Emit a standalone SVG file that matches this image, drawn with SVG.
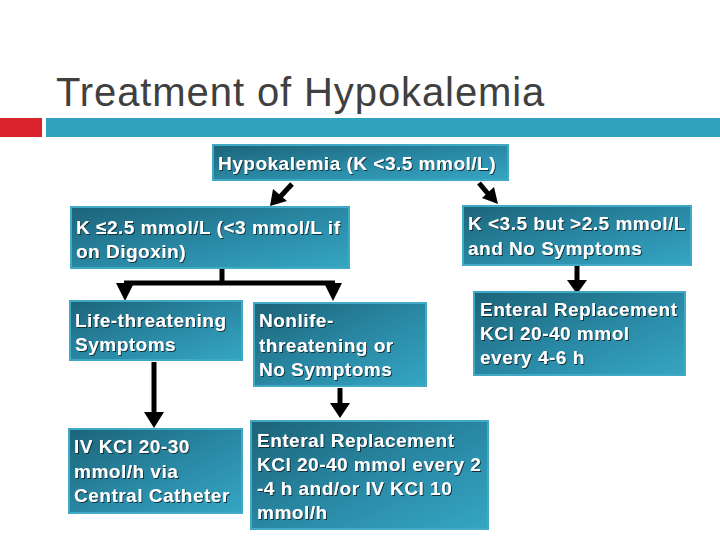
<svg xmlns="http://www.w3.org/2000/svg" width="720" height="540" viewBox="0 0 720 540">
<defs>
<linearGradient id="bx" x1="0" y1="0" x2="1" y2="1">
<stop offset="0" stop-color="#1c6479"/>
<stop offset="0.55" stop-color="#2a8aa6"/>
<stop offset="1" stop-color="#35a6c3"/>
</linearGradient>
<filter id="sh" x="-5%" y="-20%" width="110%" height="140%">
<feDropShadow dx="1" dy="1" stdDeviation="0.4" flood-color="#0a2a33" flood-opacity="0.9"/>
</filter>
</defs>
<style>
.box{fill:url(#bx);stroke:#3fa9c6;stroke-width:2}
.t{font-family:"Liberation Sans",Arial,sans-serif;font-weight:bold;font-size:19px;letter-spacing:0.5px;fill:#ffffff;filter:url(#sh)}
.title{font-family:"Liberation Sans",Arial,sans-serif;font-size:40px;letter-spacing:0.9px;fill:#404040}
.ln{stroke:#000;stroke-width:5;fill:none}
.ah{fill:#000}
</style>
<rect width="720" height="540" fill="#ffffff"/>
<text class="title" x="56" y="106">Treatment of Hypokalemia</text>
<rect x="0" y="118" width="42" height="19" fill="#d8232a"/>
<rect x="46" y="118" width="674" height="19" fill="#30a2bd"/>

<g id="connectors">
<path class="ln" d="M292 184 L280 197"/>
<polygon class="ah" points="270,206 273,189 287,201"/>
<path class="ln" d="M479 183 L489 195"/>
<polygon class="ah" points="498,204 482,198 494,187"/>
<path class="ln" d="M222 268 L222 283 M124 283 L335 283"/>
<polygon class="ah" points="116,283 134,283 125,301"/>
<polygon class="ah" points="324,283 342,283 333,301"/>
<path class="ln" d="M577 265 L577 281"/>
<polygon class="ah" points="567,280 587,280 577,294"/>
<path class="ln" d="M154 362 L154 414"/>
<polygon class="ah" points="144,412 164,412 154,428"/>
<path class="ln" d="M340 388 L340 404"/>
<polygon class="ah" points="330,403 350,403 340,418"/>
</g>

<g id="n-top">
<rect class="box" x="213" y="145" width="295" height="35"/>
<text class="t" x="357" y="170" text-anchor="middle">Hypokalemia (K &lt;3.5 mmol/L)</text>
</g>
<g id="n-severe">
<rect class="box" x="71" y="207" width="278" height="61"/>
<text class="t" x="76" y="234">K ≤2.5 mmol/L (&lt;3 mmol/L if</text>
<text class="t" x="76" y="258">on Digoxin)</text>
</g>
<g id="n-mild">
<rect class="box" x="463" y="206" width="228" height="59"/>
<text class="t" x="468" y="230">K &lt;3.5 but &gt;2.5 mmol/L</text>
<text class="t" x="468" y="255">and No Symptoms</text>
</g>
<g id="n-life">
<rect class="box" x="70" y="301" width="172" height="59"/>
<text class="t" x="75" y="327">Life-threatening</text>
<text class="t" x="75" y="351">Symptoms</text>
</g>
<g id="n-nonlife">
<rect class="box" x="254" y="303" width="172" height="83"/>
<text class="t" x="259" y="327">Nonlife-</text>
<text class="t" x="259" y="352">threatening or</text>
<text class="t" x="259" y="376">No Symptoms</text>
</g>
<g id="n-enteral-mild">
<rect class="box" x="474" y="292" width="211" height="83"/>
<text class="t" x="480" y="316">Enteral Replacement</text>
<text class="t" x="480" y="340">KCl 20-40 mmol</text>
<text class="t" x="480" y="364">every 4-6 h</text>
</g>
<g id="n-iv">
<rect class="box" x="69" y="429" width="173" height="84"/>
<text class="t" x="74" y="453">IV KCl 20-30</text>
<text class="t" x="74" y="478">mmol/h via</text>
<text class="t" x="74" y="502">Central Catheter</text>
</g>
<g id="n-enteral">
<rect class="box" x="251" y="421" width="237" height="108"/>
<text class="t" x="257" y="447">Enteral Replacement</text>
<text class="t" x="257" y="471">KCl 20-40 mmol every 2</text>
<text class="t" x="257" y="495">-4 h and/or IV KCl 10</text>
<text class="t" x="257" y="519">mmol/h</text>
</g>
</svg>
